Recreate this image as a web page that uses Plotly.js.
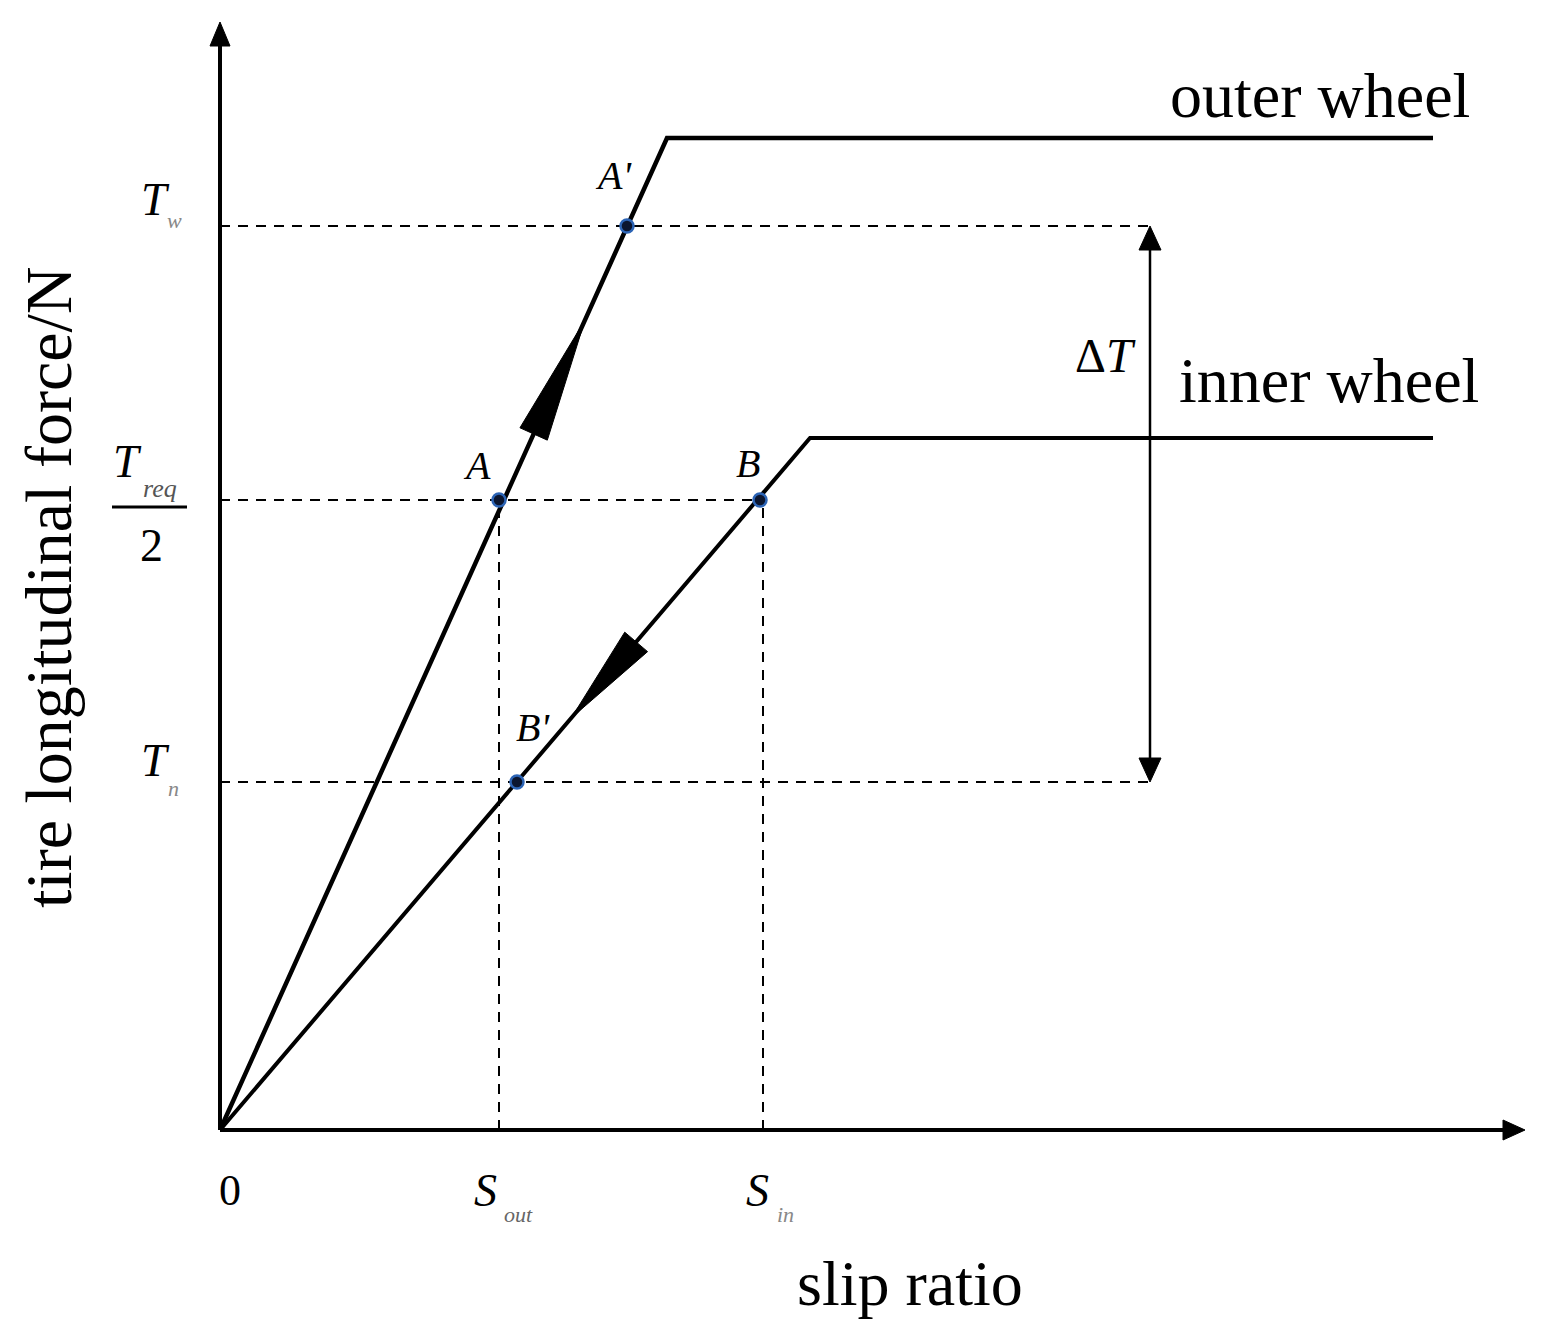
<!DOCTYPE html>
<html>
<head>
<meta charset="utf-8">
<script src="https://cdn.plot.ly/plotly-3.0.1.min.js"></script>
<style>html,body{margin:0;padding:0;background:#fff;}#chart{width:1546px;height:1341px;}</style>
</head>
<body>
<div id="chart"></div>
<script>
// ---- schematic data (arbitrary units) ----
const outerX = [0, 447, 1213];
const outerY = [0, 992, 992];
const innerX = [0, 590, 1213];
const innerY = [0, 692, 692];

const slipTickVals = [0, 279, 543];          // 0, S_out, S_in
const slipTickNames = ['0', 'S', 'S'];
const slipTickSubs = ['', 'out', 'in'];

const forceTickVals = [904, 630, 348];       // T_w, T_req/2, T_n
const forceTickSubs = ['w', 'req', 'n'];

const pointNames = ["A'", 'A', 'B', "B'"];
const pointX = [407, 279, 540, 297];
const pointY = [904, 630, 630, 348];

const deltaTX = 930;
const axisXEnd = 1305;
const axisYEnd = 1108;

// ---- helpers ----
const FONT = 'Liberation Serif, Times New Roman, serif';
function tri(tipX, tipY, dx, dy, len, half) {
  const n = Math.hypot(dx, dy); const ux = dx / n, uy = dy / n;
  const bx = tipX - ux * len, by = tipY - uy * len;
  const px = -uy, py = ux;
  return {
    x: [tipX, bx + px * half, bx - px * half, tipX],
    y: [tipY, by + py * half, by - py * half, tipY],
    type: 'scatter', mode: 'lines', fill: 'toself', fillcolor: '#000',
    line: {color: '#000', width: 1}, hoverinfo: 'skip', showlegend: false
  };
}
function onLine(xs, ys, yv) { // x on the first segment at height yv
  return xs[0] + (xs[1] - xs[0]) * (yv - ys[0]) / (ys[1] - ys[0]);
}
function line(x, y, w, dash) {
  return {x: x, y: y, type: 'scatter', mode: 'lines',
    line: {color: '#000', width: w, dash: dash || 'solid'}, hoverinfo: 'skip', showlegend: false};
}

const traces = [];
const DASH = '10px,8px';
// dashed guides
traces.push(line([0, deltaTX], [forceTickVals[0], forceTickVals[0]], 2, DASH));
traces.push(line([0, slipTickVals[2]], [forceTickVals[1], forceTickVals[1]], 2, DASH));
traces.push(line([0, deltaTX], [forceTickVals[2], forceTickVals[2]], 2, DASH));
traces.push(line([slipTickVals[1], slipTickVals[1]], [0, forceTickVals[1]], 2, DASH));
traces.push(line([slipTickVals[2], slipTickVals[2]], [0, forceTickVals[1]], 2, DASH));

// axes
traces.push(line([0, 0], [0, axisYEnd - 18], 4));
traces.push(line([0, axisXEnd - 18], [0, 0], 4));
traces.push(tri(0, axisYEnd, 0, 1, 24, 10));
traces.push(tri(axisXEnd, 0, 1, 0, 22, 10));

// wheel curves
traces.push(line(outerX, outerY, 4.5));
traces.push(line(innerX, innerY, 4));

// direction arrows along the curves
const oTipY = 810, oLen = 125;
traces.push(tri(onLine(outerX, outerY, oTipY), oTipY, outerX[1], outerY[1], oLen, 15));
const iTipY = 412, iLen = 100;
traces.push(tri(onLine(innerX, innerY, iTipY), iTipY, -innerX[1], -innerY[1], iLen, 15));

// delta T double arrow
traces.push(line([deltaTX, deltaTX], [forceTickVals[2] + 15, forceTickVals[0] - 15], 2.5));
traces.push(tri(deltaTX, forceTickVals[0], 0, 1, 24, 11));
traces.push(tri(deltaTX, forceTickVals[2], 0, -1, 24, 11));

// operating points
traces.push({x: pointX, y: pointY, type: 'scatter', mode: 'markers',
  marker: {size: 13, color: '#0b1630', line: {color: '#2c64b5', width: 2.5}},
  hoverinfo: 'skip', showlegend: false});

// ---- annotations ----
const ann = [];
function txt(x, y, text, size, color, extra) {
  ann.push(Object.assign({x: x, y: y, text: text, showarrow: false, xanchor: 'center', yanchor: 'middle',
    font: {family: FONT, size: size, color: color || '#000'}}, extra || {}));
}
const labelOff = [[-14, 51], [-22, 35], [-12, 37], [16, 55]];
pointNames.forEach((n, i) => txt(pointX[i] + labelOff[i][0], pointY[i] + labelOff[i][1], '<i>' + n + '</i>', 40));

// y tick labels
txt(-65, forceTickVals[0] + 27, '<i>T</i>', 46);
txt(-46, forceTickVals[0] + 6, '<i>' + forceTickSubs[0] + '</i>', 22, '#888');
txt(-65, forceTickVals[2] + 22, '<i>T</i>', 46);
txt(-47, forceTickVals[2] - 6, '<i>' + forceTickSubs[2] + '</i>', 22, '#888');
txt(-93, forceTickVals[1] + 39, '<i>T</i>', 46);
txt(-60, forceTickVals[1] + 12, '<i>' + forceTickSubs[1] + '</i>', 26, '#555');
txt(-69, forceTickVals[1] - 45, '2', 46);

// x tick labels
txt(slipTickVals[0] + 10, -60, slipTickNames[0], 44);
txt(slipTickVals[1] - 14, -60, '<i>' + slipTickNames[1] + '</i>', 46);
txt(slipTickVals[1] + 19, -84, '<i>' + slipTickSubs[1] + '</i>', 22, '#666');
txt(slipTickVals[2] - 6, -60, '<i>' + slipTickNames[2] + '</i>', 46);
txt(slipTickVals[2] + 22, -84, '<i>' + slipTickSubs[2] + '</i>', 22, '#888');

// curve labels
txt(1100, 1035, 'outer wheel', 64);
txt(1109, 750, 'inner wheel', 64);
txt(885, 775, '\u0394<i>T</i>', 48);

// axis titles
txt(690, -153, 'slip ratio', 64);
txt(-172, 542, 'tire longitudinal force/N', 66, '#000', {textangle: -90});

const layout = {
  width: 1546, height: 1341,
  margin: {l: 0, r: 0, t: 0, b: 0},
  paper_bgcolor: '#fff', plot_bgcolor: '#fff',
  xaxis: {range: [-220, 1326], visible: false, fixedrange: true},
  yaxis: {range: [-211, 1130], visible: false, fixedrange: true},
  showlegend: false,
  shapes: [{type: 'line', xref: 'x', yref: 'y', x0: -108, x1: -33, y0: forceTickVals[1] - 7, y1: forceTickVals[1] - 7,
    line: {color: '#000', width: 3}}],
  annotations: ann
};
Plotly.newPlot('chart', traces, layout, {staticPlot: true, displayModeBar: false});
</script>
</body>
</html>
